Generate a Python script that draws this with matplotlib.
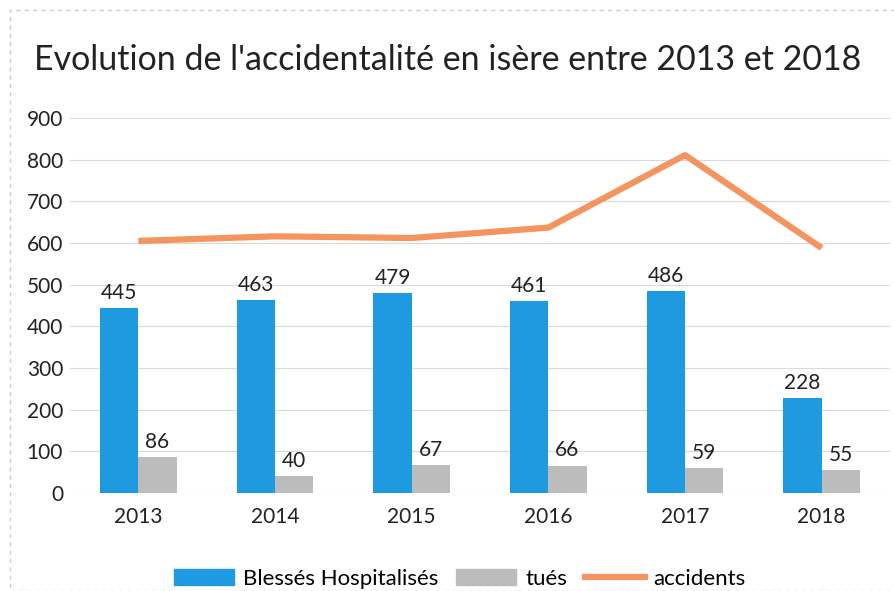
import matplotlib
matplotlib.use("Agg")
import matplotlib.pyplot as plt
import numpy as np
from matplotlib.lines import Line2D
from matplotlib.patches import Patch, Rectangle

plt.rcParams['font.family'] = ['Lato', 'DejaVu Sans']

years = ["2013", "2014", "2015", "2016", "2017", "2018"]
blesses = [445, 463, 479, 461, 486, 228]
tues = [86, 40, 67, 66, 59, 55]
accidents = [605, 616, 612, 637, 811, 588]

blue = "#1E9AE0"
gray = "#BDBCBD"
orange = "#F4945E"

fig = plt.figure(figsize=(8.95, 5.91), dpi=100)
ax = fig.add_axes([70/895, 1-493/591, 820/895, 375/591])

x = np.arange(len(years))
w = 0.28
ax.bar(x - w/2, blesses, w, color=blue, zorder=3)
ax.bar(x + w/2, tues, w, color=gray, zorder=3)
ax.plot(x, accidents, color=orange, lw=4.5, zorder=4, solid_capstyle='butt')

for xi, v in zip(x - w/2, blesses):
    ax.text(xi, v + 12, str(v), ha='center', va='bottom', fontsize=15, color='#222222')
for xi, v in zip(x + w/2, tues):
    ax.text(xi, v + 12, str(v), ha='center', va='bottom', fontsize=15, color='#222222')

ax.set_xlim(-0.5, len(years) - 0.5)
ax.set_ylim(0, 900)
ax.set_yticks(range(0, 901, 100))
ax.set_xticks(x)
ax.set_xticklabels(years)
ax.tick_params(axis='both', length=0, labelsize=15, colors='#222222')
ax.tick_params(axis='y', pad=5)
ax.tick_params(axis='x', pad=10)
ax.grid(axis='y', color='#D9D9D9', lw=0.8, zorder=0)
for s in ax.spines.values():
    s.set_visible(False)

fig.text(0.5, 1 - 60/591, "Evolution de l'accidentalité en isère entre 2013 et 2018",
         ha='center', va='center', fontsize=24.5, color='#222222')

handles = [Patch(color=blue), Patch(color=gray), Line2D([0], [0], color=orange, lw=4.5)]
labels = ["Blessés Hospitalisés", "tués", "accidents"]
fig.legend(handles, labels, loc='center', bbox_to_anchor=(460/895, 1 - 579/591), ncol=3,
           frameon=False, fontsize=16, handlelength=2.7, handleheight=0.7, columnspacing=0.8,
           handletextpad=0.4)

fig.add_artist(Rectangle((10/895, 0), 1, 1 - 10/591, transform=fig.transFigure,
                         fill=False, edgecolor='#CCCCCC', lw=1, linestyle=(0, (3, 3))))

fig.savefig("out.png", dpi=100)
